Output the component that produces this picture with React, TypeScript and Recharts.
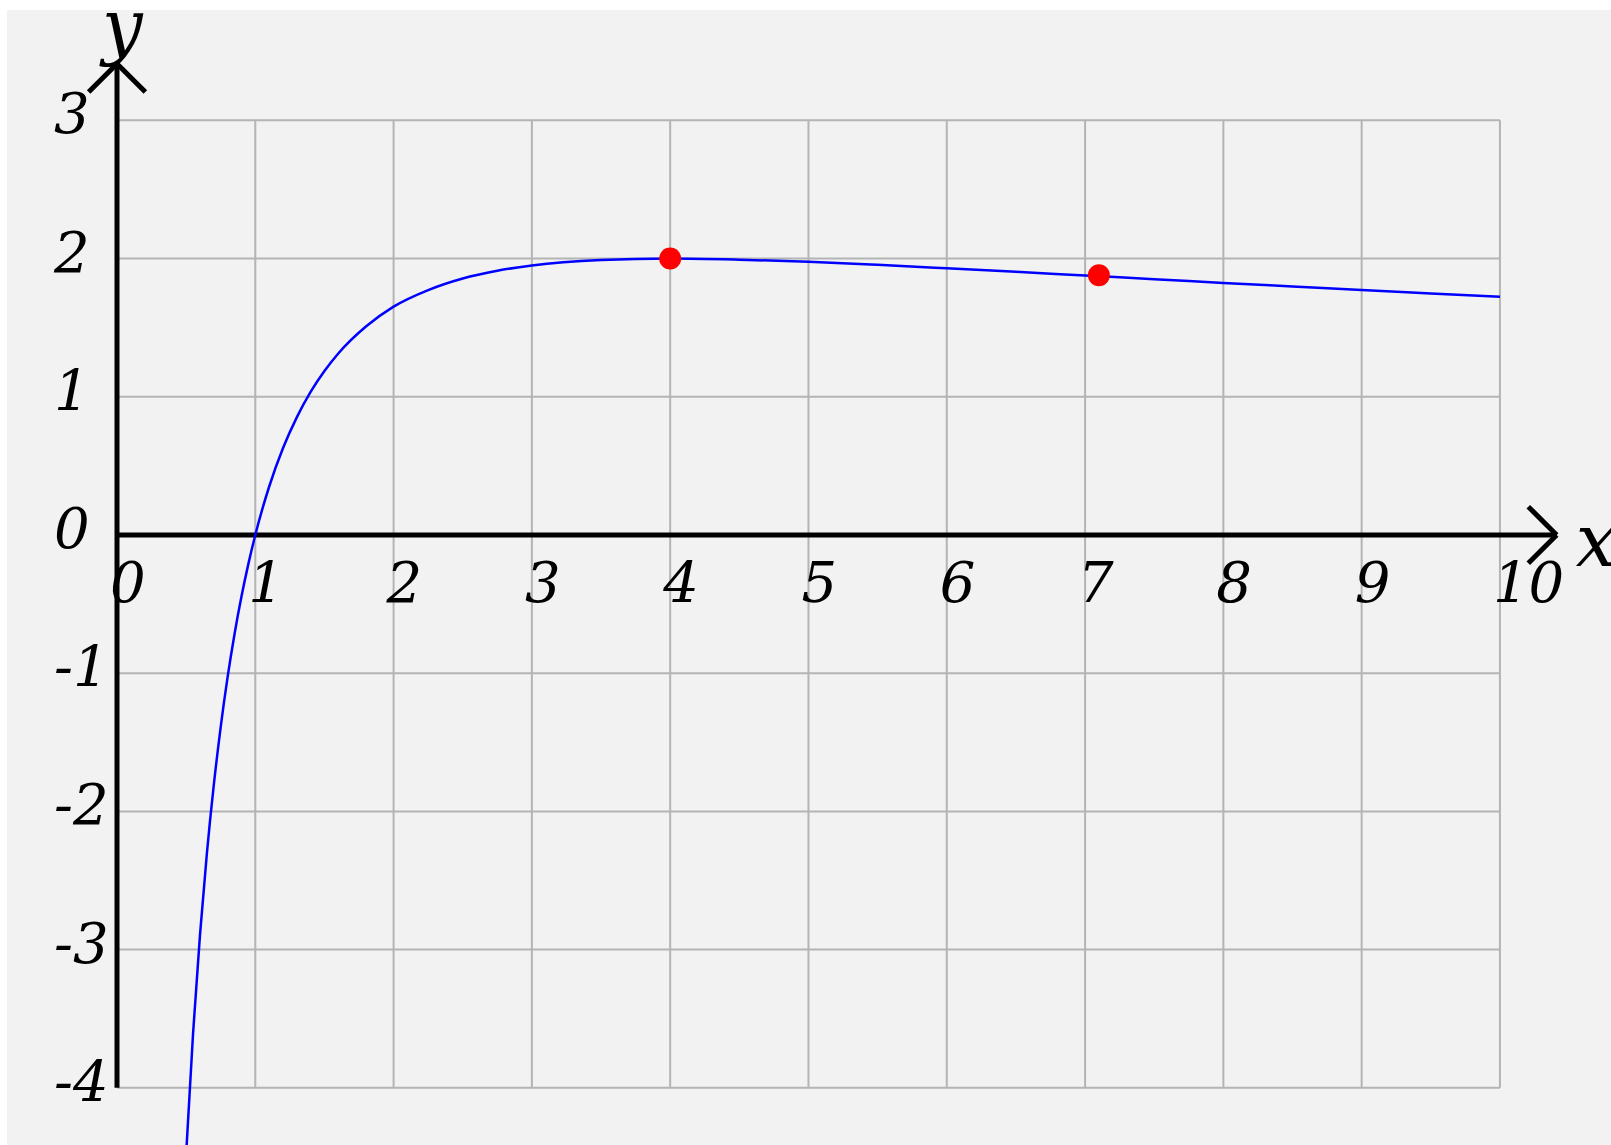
import React from "react";
import {
  ComposedChart,
  Line,
  Scatter,
  XAxis,
  YAxis,
  ReferenceLine,
} from "recharts";

// curve samples
const curveX = [
  0.5, 0.55, 0.6, 0.65, 0.7, 0.75, 0.8, 0.85, 0.9, 0.95, 1, 1.1, 1.2, 1.3, 1.4,
  1.5, 1.6, 1.8, 2, 2.25, 2.5, 2.75, 3, 3.5, 4, 4.5, 5, 5.5, 6, 6.5, 7, 7.5, 8,
  8.5, 9, 9.5, 10,
];
const curveY = [
  -4.48, -3.607, -2.895, -2.304, -1.809, -1.388, -1.027, -0.716, -0.446, -0.209,
  0, 0.349, 0.627, 0.851, 1.035, 1.186, 1.313, 1.508, 1.652, 1.772, 1.856,
  1.912, 1.95, 1.989, 2.0, 1.992, 1.977, 1.955, 1.93, 1.904, 1.877, 1.851,
  1.824, 1.798, 1.772, 1.748, 1.724,
];

// highlighted points
const pointX = [4, 7.1];
const pointY = [2, 1.88];

const xTicks = [0, 1, 2, 3, 4, 5, 6, 7, 8, 9, 10];
const yTicks = [3, 2, 1, 0, -1, -2, -3, -4];
const gridX = [1, 2, 3, 4, 5, 6, 7, 8, 9, 10];
const gridY = [3, 2, 1, -1, -2, -3, -4];

const curveData = curveX.map((x, i) => ({ x, y: curveY[i] }));
const pointData = pointX.map((x, i) => ({ x, y: pointY[i] }));
const xTickData = xTicks.map((v) => ({ x: v, y: 0, label: String(v) }));
const yTickData = yTicks.map((v) => ({ x: 0, y: v, label: String(v) }));

const FONT = "'DejaVu Serif', serif";
const GRID = "#b4b4b4";
const AXIS_W = 5;

const App = () => {
  return (
    <div
      style={{
        position: "absolute",
        left: 0,
        top: 0,
        width: 1611,
        height: 1145,
        background: "#ffffff",
        overflow: "hidden",
      }}
    >
      <div
        style={{
          position: "absolute",
          left: 7,
          top: 10,
          width: 1604,
          height: 1135,
          background: "#f2f2f2",
        }}
      />
      <div style={{ position: "absolute", left: 0, top: 0 }}>
        <ComposedChart
          width={1611}
          height={1145}
          margin={{ top: 0, right: 0, bottom: 0, left: 0 }}
        >
          <XAxis
            type="number"
            dataKey="x"
            domain={[-0.846, 10.803]}
            allowDataOverflow
            hide
          />
          <YAxis
            type="number"
            dataKey="y"
            domain={[-4.414, 3.871]}
            allowDataOverflow
            hide
          />

          {gridX.map((v) => (
            <ReferenceLine
              key={`gx-${v}`}
              segment={[
                { x: v, y: -4 },
                { x: v, y: 3 },
              ]}
              stroke={GRID}
              strokeWidth={2}
              ifOverflow="visible"
            />
          ))}
          {gridY.map((v) => (
            <ReferenceLine
              key={`gy-${v}`}
              segment={[
                { x: 0, y: v },
                { x: 10, y: v },
              ]}
              stroke={GRID}
              strokeWidth={2}
              ifOverflow="visible"
            />
          ))}

          {/* axes with arrow heads */}
          <ReferenceLine
            segment={[
              { x: 0, y: -4 },
              { x: 0, y: 3.41 },
            ]}
            stroke="#000"
            strokeWidth={AXIS_W}
            ifOverflow="visible"
          />
          <ReferenceLine
            segment={[
              { x: 0, y: 0 },
              { x: 10.41, y: 0 },
            ]}
            stroke="#000"
            strokeWidth={AXIS_W}
            ifOverflow="visible"
          />
          <ReferenceLine
            segment={[
              { x: -0.205, y: 3.205 },
              { x: 0, y: 3.41 },
            ]}
            stroke="#000"
            strokeWidth={AXIS_W}
            ifOverflow="visible"
          />
          <ReferenceLine
            segment={[
              { x: 0.205, y: 3.205 },
              { x: 0, y: 3.41 },
            ]}
            stroke="#000"
            strokeWidth={AXIS_W}
            ifOverflow="visible"
          />
          <ReferenceLine
            segment={[
              { x: 10.205, y: 0.205 },
              { x: 10.41, y: 0 },
            ]}
            stroke="#000"
            strokeWidth={AXIS_W}
            ifOverflow="visible"
          />
          <ReferenceLine
            segment={[
              { x: 10.205, y: -0.205 },
              { x: 10.41, y: 0 },
            ]}
            stroke="#000"
            strokeWidth={AXIS_W}
            ifOverflow="visible"
          />

          <Line
            data={curveData}
            dataKey="y"
            type="monotone"
            stroke="#0000ff"
            strokeWidth={2.5}
            dot={false}
            activeDot={false}
            isAnimationActive={false}
          />

          <Scatter
            data={pointData}
            dataKey="y"
            isAnimationActive={false}
            shape={(p: any) => <circle cx={p.cx} cy={p.cy} r={11} fill="#ff0000" />}
          />

          <Scatter
            data={xTickData}
            dataKey="y"
            isAnimationActive={false}
            shape={(p: any) => (
              <text
                x={p.cx - 7}
                y={p.cy + 67}
                fontFamily={FONT}
                fontStyle="italic"
                fontSize={56}
                fill="#000"
              >
                {p.payload.label}
              </text>
            )}
          />
          <Scatter
            data={yTickData}
            dataKey="y"
            isAnimationActive={false}
            shape={(p: any) => (
              <text
                x={p.cx - 63}
                y={p.cy + 13}
                fontFamily={FONT}
                fontStyle="italic"
                fontSize={56}
                fill="#000"
              >
                {p.payload.label}
              </text>
            )}
          />

          {/* axis names */}
          <Scatter
            data={[{ x: 10.41, y: 0, label: "x" }]}
            dataKey="y"
            isAnimationActive={false}
            shape={(p: any) => (
              <text
                x={p.cx + 19}
                y={p.cy + 31}
                fontFamily={FONT}
                fontStyle="italic"
                fontSize={72}
                fill="#000"
              >
                {p.payload.label}
              </text>
            )}
          />
          <Scatter
            data={[{ x: 0, y: 3.41, label: "y" }]}
            dataKey="y"
            isAnimationActive={false}
            shape={(p: any) => (
              <text
                x={p.cx - 15}
                y={p.cy - 13}
                fontFamily={FONT}
                fontStyle="italic"
                fontSize={72}
                fill="#000"
              >
                {p.payload.label}
              </text>
            )}
          />
        </ComposedChart>
      </div>
    </div>
  );
};

export default App;
